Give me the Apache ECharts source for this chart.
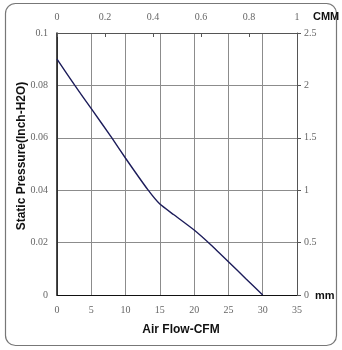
<!DOCTYPE html>
<html>
<head>
<meta charset="utf-8">
<style>
  html, body { margin: 0; padding: 0; background: #fff; }
  #chart { width: 342px; height: 350px; }
</style>
<script src="https://cdn.jsdelivr.net/npm/echarts@6/dist/echarts.min.js"></script>
</head>
<body>
<div id="chart"></div>
<script>
// Fan performance curve: static pressure vs air flow
var flowCFM =       [0,     2.6,   5,      8,     10,     13.3,  15,     17,     20,     22.5,  25,     27.5,  30];
var pressureInH2O = [0.090, 0.080, 0.0711, 0.060, 0.0522, 0.040, 0.0347, 0.0307, 0.0248, 0.019, 0.0127, 0.0063, 0];

var cfmTicks = { min: 0, max: 35, step: 5 };
var cmmTicks = { min: 0, max: 1, step: 0.2 };
var inH2OTicks = { min: 0, max: 0.1, step: 0.02 };
var mmTicks = { min: 0, max: 2.5, step: 0.5 };

var curve = flowCFM.map(function (x, i) { return [x, pressureInH2O[i]]; });

var serif = 'Liberation Serif';
var sans = 'Liberation Sans';
var gridColor = '#8c8c8c';

var chart = echarts.init(document.getElementById('chart'), null, { renderer: 'canvas' });
chart.setOption({
  animation: false,
  backgroundColor: '#fff',
  grid: { left: 57, right: 45, top: 33, bottom: 55, containLabel: false, outerBoundsMode: 'none' },
  xAxis: [
    {
      type: 'value', position: 'bottom',
      min: cfmTicks.min, max: cfmTicks.max, interval: cfmTicks.step,
      axisLine: { show: true, onZero: false, lineStyle: { color: '#111', width: 1.2 } },
      axisTick: { show: false },
      axisLabel: { fontFamily: serif, fontSize: 10, color: '#666', margin: 10 },
      splitLine: { show: true, lineStyle: { color: gridColor, width: 1 } },
      name: 'Air Flow-CFM', nameLocation: 'middle', nameGap: 29,
      nameTextStyle: { fontFamily: sans, fontWeight: 'bold', fontSize: 12, color: '#111', padding: [0, 0, 0, 8] }
    },
    {
      type: 'value', position: 'top',
      min: cmmTicks.min, max: cmmTicks.max, interval: cmmTicks.step,
      axisLine: { show: true, onZero: false, lineStyle: { color: '#555', width: 1 } },
      axisTick: { show: true, inside: true, length: 4, lineStyle: { color: '#555' } },
      axisLabel: { fontFamily: serif, fontSize: 10, color: '#666', margin: 11 },
      splitLine: { show: false }
    }
  ],
  yAxis: [
    {
      type: 'value', position: 'left',
      min: inH2OTicks.min, max: inH2OTicks.max, interval: inH2OTicks.step,
      axisLine: { show: true, onZero: false, lineStyle: { color: '#111', width: 1.5 } },
      axisTick: { show: false },
      axisLabel: { fontFamily: serif, fontSize: 10, color: '#666', margin: 9 },
      splitLine: { show: true, lineStyle: { color: gridColor, width: 1 } },
      name: 'Static Pressure(Inch-H2O)', nameLocation: 'middle', nameGap: 29,
      nameMoveOverlap: false,
      nameTextStyle: { fontFamily: sans, fontWeight: 'bold', fontSize: 12, color: '#111', padding: [0, 0, 0, 16] }
    },
    {
      type: 'value', position: 'right',
      min: mmTicks.min, max: mmTicks.max, interval: mmTicks.step,
      axisLine: { show: true, onZero: false, lineStyle: { color: '#555', width: 1 } },
      axisTick: { show: true, inside: false, length: 4, lineStyle: { color: '#555' } },
      axisLabel: { fontFamily: serif, fontSize: 10, color: '#666', margin: 7 },
      splitLine: { show: false }
    }
  ],
  graphic: [
    {
      type: 'rect', silent: true,
      shape: { x: 5.5, y: 3.5, width: 331, height: 342, r: 10 },
      style: { fill: 'none', stroke: '#777', lineWidth: 1.2 }
    },
    {
      type: 'text', left: 313, top: 11,
      style: { text: 'CMM', font: 'bold 11px "Liberation Sans"', fill: '#111' }
    },
    {
      type: 'text', left: 315, top: 290,
      style: { text: 'mm', font: 'bold 11px "Liberation Sans"', fill: '#111' }
    }
  ],
  series: [
    {
      type: 'line', xAxisIndex: 0, yAxisIndex: 0,
      data: curve, smooth: 0.15, showSymbol: false,
      lineStyle: { color: '#1c1c5a', width: 1.4 }
    }
  ]
});
</script>
</body>
</html>
